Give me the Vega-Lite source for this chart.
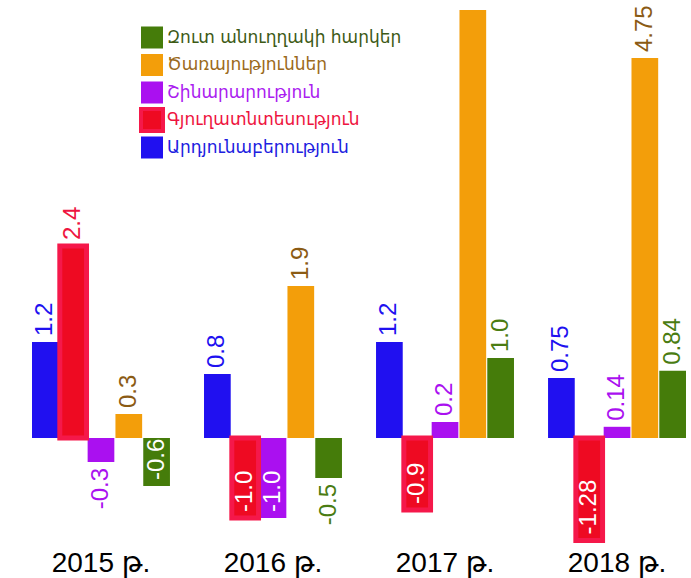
{
  "$schema": "https://vega.github.io/schema/vega-lite/v6.json",
  "width": 654,
  "height": 550,
  "autosize": {"type": "none"},
  "padding": {"left": 32, "top": 0, "right": 5, "bottom": 28},
  "background": "white",
  "config": {"view": {"stroke": null}, "font": "Liberation Sans, DejaVu Sans, Noto Sans"},
  "data": {
    "values": [
      {"year": "2015 թ.", "series": "Արդյունաբերություն", "value": 1.2, "label": "1.2"},
      {"year": "2015 թ.", "series": "Գյուղատնտեսություն", "value": 2.4, "label": "2.4"},
      {"year": "2015 թ.", "series": "Շինարարություն", "value": -0.3, "label": "-0.3"},
      {"year": "2015 թ.", "series": "Ծառայություններ", "value": 0.3, "label": "0.3"},
      {"year": "2015 թ.", "series": "Զուտ անուղղակի հարկեր", "value": -0.6, "label": "-0.6"},
      {"year": "2016 թ.", "series": "Արդյունաբերություն", "value": 0.8, "label": "0.8"},
      {"year": "2016 թ.", "series": "Գյուղատնտեսություն", "value": -1.0, "label": "-1.0"},
      {"year": "2016 թ.", "series": "Շինարարություն", "value": -1.0, "label": "-1.0"},
      {"year": "2016 թ.", "series": "Ծառայություններ", "value": 1.9, "label": "1.9"},
      {"year": "2016 թ.", "series": "Զուտ անուղղակի հարկեր", "value": -0.5, "label": "-0.5"},
      {"year": "2017 թ.", "series": "Արդյունաբերություն", "value": 1.2, "label": "1.2"},
      {"year": "2017 թ.", "series": "Գյուղատնտեսություն", "value": -0.9, "label": "-0.9"},
      {"year": "2017 թ.", "series": "Շինարարություն", "value": 0.2, "label": "0.2"},
      {"year": "2017 թ.", "series": "Ծառայություններ", "value": 5.35, "label": ""},
      {"year": "2017 թ.", "series": "Զուտ անուղղակի հարկեր", "value": 1.0, "label": "1.0"},
      {"year": "2018 թ.", "series": "Արդյունաբերություն", "value": 0.75, "label": "0.75"},
      {"year": "2018 թ.", "series": "Գյուղատնտեսություն", "value": -1.28, "label": "-1.28"},
      {"year": "2018 թ.", "series": "Շինարարություն", "value": 0.14, "label": "0.14"},
      {"year": "2018 թ.", "series": "Ծառայություններ", "value": 4.75, "label": "4.75"},
      {"year": "2018 թ.", "series": "Զուտ անուղղակի հարկեր", "value": 0.84, "label": "0.84"}
    ]
  },
  "encoding": {
    "x": {
      "field": "year", "type": "nominal",
      "scale": {"paddingInner": 0.198, "paddingOuter": 0},
      "axis": {"title": null, "domain": false, "ticks": false, "labelAngle": 0, "labelFontSize": 28, "labelColor": "#000000", "labelPadding": -1, "labelFont": "Liberation Sans, DejaVu Sans"}
    },
    "xOffset": {
      "field": "series", "type": "nominal",
      "scale": {"domain": ["Արդյունաբերություն", "Գյուղատնտեսություն", "Շինարարություն", "Ծառայություններ", "Զուտ անուղղակի հարկեր"], "paddingInner": 0.04, "paddingOuter": 0}
    },
    "y": {
      "field": "value", "type": "quantitative",
      "scale": {"domain": [-1.4, 5.475], "nice": false, "zero": true},
      "axis": null
    }
  },
  "layer": [
    {
      "mark": {"type": "bar"},
      "encoding": {
        "color": {
          "field": "series", "type": "nominal",
          "scale": {
            "domain": ["Զուտ անուղղակի հարկեր", "Ծառայություններ", "Շինարարություն", "Գյուղատնտեսություն", "Արդյունաբերություն"],
            "range": ["#457c0a", "#f39e0a", "#aa10f0", "#ee0a22", "#2010f0"]
          },
          "legend": {
            "title": null,
            "orient": "none",
            "legendX": 107,
            "legendY": 24,
            "symbolType": "square",
            "symbolSize": 484,
            "symbolStrokeWidth": 4,
            "symbolStrokeColor": {"expr": "datum.label == 'Գյուղատնտեսություն' ? '#f5184a' : 'transparent'"},
            "labelFontSize": 17,
            "labelOffset": 2,
            "labelLimit": 400,
            "clipHeight": 27,
            "rowPadding": 0.5,
            "labelFont": "DejaVu Sans, Noto Sans",
            "labelColor": {"expr": "datum.label == 'Զուտ անուղղակի հարկեր' ? '#3d5a16' : datum.label == 'Ծառայություններ' ? '#9b6a20' : datum.label == 'Շինարարություն' ? '#aa20f0' : datum.label == 'Գյուղատնտեսություն' ? '#ee1440' : '#2020e0'"}
          }
        }
      }
    },
    {
      "transform": [{"filter": "datum.series == 'Գյուղատնտեսություն'"}],
      "mark": {"type": "bar", "fill": "#ee0a22", "stroke": "#f5184a", "strokeWidth": 5},
      "encoding": {}
    },
    {
      "transform": [{"filter": "datum.value >= 0"}],
      "mark": {"type": "text", "angle": 270, "align": "left", "baseline": "middle", "dx": 6, "fontSize": 24, "font": "Liberation Sans"},
      "encoding": {
        "text": {"field": "label"},
        "fill": {
          "field": "series", "type": "nominal", "legend": null,
          "scale": {
            "domain": ["Զուտ անուղղակի հարկեր", "Ծառայություններ", "Շինարարություն", "Գյուղատնտեսություն", "Արդյունաբերություն"],
            "range": ["#4a7c12", "#8b5b14", "#aa10f0", "#ee1440", "#2010f0"]
          }
        }
      }
    },
    {
      "transform": [{"filter": "datum.value < 0 && datum.value > -0.55"}],
      "mark": {"type": "text", "angle": 270, "align": "right", "baseline": "middle", "dx": -6, "fontSize": 24, "font": "Liberation Sans"},
      "encoding": {
        "text": {"field": "label"},
        "fill": {"field": "series", "type": "nominal", "legend": null}
      }
    },
    {
      "transform": [{"filter": "datum.value <= -0.55"}],
      "mark": {"type": "text", "angle": 270, "align": "left", "baseline": "middle", "dx": 6, "fontSize": 24, "font": "Liberation Sans", "color": "white"},
      "encoding": {
        "text": {"field": "label"}
      }
    }
  ]
}
